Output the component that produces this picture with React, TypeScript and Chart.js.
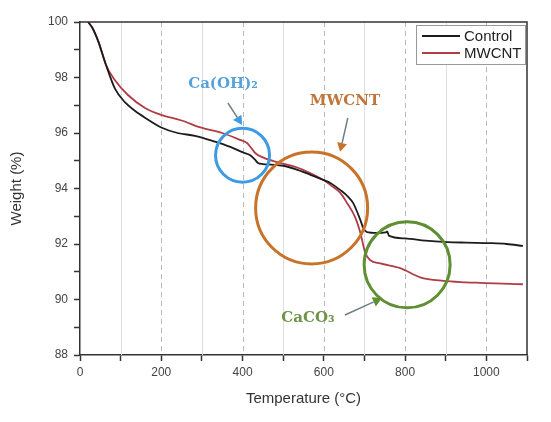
import React, { useEffect, useRef } from "react";
import { Chart, registerables } from "chart.js";

Chart.register(...registerables);

const seriesNames = ["Control", "MWCNT"];
const controlTemp = [20, 30, 45, 64, 86, 111, 135, 160, 200, 240, 283, 330, 370, 401, 419, 430, 438, 450, 470, 500, 530, 566, 600, 616, 640, 660, 672, 690, 697, 706, 731, 752, 756, 760, 800, 850, 904, 950, 1010, 1050, 1090];
const controlWeight = [100, 99.8, 99.3, 98.45, 97.6, 97.1, 96.8, 96.55, 96.2, 96.0, 95.9, 95.7, 95.5, 95.3, 95.2, 95.05, 94.92, 94.88, 94.86, 94.82, 94.7, 94.5, 94.3, 94.2, 93.95, 93.7, 93.48, 92.86, 92.58, 92.43, 92.4, 92.42, 92.45, 92.3, 92.2, 92.12, 92.07, 92.05, 92.03, 92.0, 91.93];
const mwcntTemp = [20, 30, 45, 64, 86, 118, 160, 200, 250, 296, 350, 394, 411, 422, 431, 450, 485, 530, 566, 600, 616, 640, 657, 677, 690, 702, 714, 739, 788, 837, 894, 950, 985, 1040, 1090];
const mwcntWeight = [100, 99.8, 99.3, 98.45, 97.9, 97.37, 96.9, 96.65, 96.45, 96.2, 96.0, 95.75, 95.64, 95.45, 95.28, 95.12, 94.95, 94.78, 94.56, 94.3, 94.13, 93.85, 93.48, 92.97, 92.4, 91.68, 91.42, 91.3, 91.13, 90.8, 90.67, 90.62, 90.6, 90.57, 90.55];
const xTickLabels = [0, 200, 400, 600, 800, 1000];
const yTickLabels = [88, 90, 92, 94, 96, 98, 100];

const seriesColors = ["#1c1c1c", "#b23c46"];

// annotation layout (data coordinates)
const annotations = [
  { label: "Ca(OH)\u2082", color: "#3c9be2", textColor: "#55a3da", circle: [400, 95.2], r: 27, text: [352, 97.77], arrow: [[364, 97.08], [399, 96.29]] },
  { label: "MWCNT", color: "#c8732a", textColor: "#c2753a", circle: [570, 93.3], r: 56, text: [652, 97.15], arrow: [[659, 96.54], [640, 95.32]] },
  { label: "CaCO\u2083", color: "#5f8f33", textColor: "#6e9447", circle: [805, 91.25], r: 43, text: [561, 89.33], arrow: [[652, 89.44], [743, 90.05]] },
];

const decoPlugin = {
  id: "deco",
  beforeDatasetsDraw(chart: any) {
    const { ctx, chartArea: a, scales } = chart;
    const xs = scales.x;
    ctx.save();
    for (let v = 100; v <= 1000; v += 100) {
      const px = Math.round(xs.getPixelForValue(v)) + 0.5;
      ctx.beginPath();
      if (v % 200 === 0) {
        ctx.setLineDash([5, 4]);
        ctx.strokeStyle = "#b8b8b8";
      } else {
        ctx.setLineDash([]);
        ctx.strokeStyle = "#dedede";
      }
      ctx.lineWidth = 1;
      ctx.moveTo(px, a.top);
      ctx.lineTo(px, a.bottom);
      ctx.stroke();
    }
    ctx.restore();
  },
  afterDatasetsDraw(chart: any) {
    const { ctx, chartArea: a, scales } = chart;
    const xs = scales.x;
    const ys = scales.y;
    ctx.save();
    // frame
    ctx.strokeStyle = "#333";
    ctx.lineWidth = 1.5;
    ctx.setLineDash([]);
    ctx.beginPath();
    ctx.moveTo(a.left, a.top);
    ctx.lineTo(a.right, a.top);
    ctx.lineTo(a.right, a.bottom);
    ctx.stroke();

    // annotations
    for (const an of annotations) {
      const cx = xs.getPixelForValue(an.circle[0]);
      const cy = ys.getPixelForValue(an.circle[1]);
      ctx.strokeStyle = an.color;
      ctx.lineWidth = 3;
      ctx.beginPath();
      ctx.arc(cx, cy, an.r, 0, Math.PI * 2);
      ctx.stroke();
      // arrow
      const x1 = xs.getPixelForValue(an.arrow[0][0]);
      const y1 = ys.getPixelForValue(an.arrow[0][1]);
      const x2 = xs.getPixelForValue(an.arrow[1][0]);
      const y2 = ys.getPixelForValue(an.arrow[1][1]);
      const ang = Math.atan2(y2 - y1, x2 - x1);
      const hl = 9;
      const bx = x2 - hl * Math.cos(ang);
      const by = y2 - hl * Math.sin(ang);
      ctx.strokeStyle = "#6f7f86";
      ctx.lineWidth = 1.5;
      ctx.beginPath();
      ctx.moveTo(x1, y1);
      ctx.lineTo(bx, by);
      ctx.stroke();
      ctx.fillStyle = an.color;
      ctx.beginPath();
      ctx.moveTo(x2, y2);
      ctx.lineTo(bx + 5 * Math.sin(ang), by - 5 * Math.cos(ang));
      ctx.lineTo(bx - 5 * Math.sin(ang), by + 5 * Math.cos(ang));
      ctx.closePath();
      ctx.fill();
      // text
      ctx.fillStyle = an.textColor;
      ctx.font = "bold 15px 'DejaVu Serif'";
      ctx.textAlign = "center";
      ctx.textBaseline = "middle";
      ctx.fillText(an.label, xs.getPixelForValue(an.text[0]), ys.getPixelForValue(an.text[1]));
    }

    // legend
    const lx = a.right - 111;
    const ly = a.top + 3;
    ctx.fillStyle = "#ffffff";
    ctx.fillRect(lx, ly, 109, 39);
    ctx.strokeStyle = "#999";
    ctx.lineWidth = 1;
    ctx.strokeRect(lx + 0.5, ly + 0.5, 109, 39);
    chart.data.datasets.forEach((ds: any, i: number) => {
      const yy = ly + 11 + i * 17;
      ctx.strokeStyle = ds.borderColor;
      ctx.lineWidth = 1.8;
      ctx.beginPath();
      ctx.moveTo(lx + 6, yy);
      ctx.lineTo(lx + 44, yy);
      ctx.stroke();
      ctx.fillStyle = "#222";
      ctx.font = "15px 'Liberation Sans', Arial, sans-serif";
      ctx.textAlign = "left";
      ctx.textBaseline = "middle";
      ctx.fillText(ds.label, lx + 48, yy + 1);
    });
    ctx.restore();
  },
};

export default function App() {
  const ref = useRef<HTMLCanvasElement | null>(null);
  useEffect(() => {
    if (!ref.current) return;
    const mk = (t: number[], w: number[]) => t.map((x, i) => ({ x, y: w[i] }));
    const chart = new Chart(ref.current, {
      type: "line",
      data: {
        datasets: [
          { label: seriesNames[0], data: mk(controlTemp, controlWeight), borderColor: seriesColors[0], borderWidth: 1.8, pointRadius: 0, cubicInterpolationMode: "monotone" },
          { label: seriesNames[1], data: mk(mwcntTemp, mwcntWeight), borderColor: seriesColors[1], borderWidth: 1.8, pointRadius: 0, cubicInterpolationMode: "monotone" },
        ],
      },
      options: {
        responsive: false,
        animation: false,
        layout: { padding: { left: 4, top: 22, right: 24, bottom: 10 } },
        plugins: { legend: { display: false }, tooltip: { enabled: false } },
        scales: {
          x: {
            type: "linear",
            min: 0,
            max: 1100,
            afterFit: (s: any) => { s.height = 57; },
            ticks: {
              stepSize: 100,
              autoSkip: false,
              maxRotation: 0,
              padding: 4,
              color: "#444",
              font: { size: 12, family: "'Liberation Sans', Arial, sans-serif" },
              callback: (v: any) => (xTickLabels.includes(v) ? String(v) : ""),
            },
            grid: { drawOnChartArea: false, drawTicks: true, tickLength: 6, tickColor: "#333", tickWidth: 1.5 },
            border: { color: "#333", width: 1.5 },
            title: { display: true, text: "Temperature (\u00B0C)", color: "#333", font: { size: 15, family: "'Liberation Sans', Arial, sans-serif" } },
          },
          y: {
            min: 88,
            max: 100,
            afterFit: (s: any) => { s.width = 76; },
            ticks: {
              stepSize: 1,
              autoSkip: false,
              padding: 6,
              color: "#444",
              font: { size: 12, family: "'Liberation Sans', Arial, sans-serif" },
              callback: (v: any) => (yTickLabels.includes(v) ? String(v) : ""),
            },
            grid: { drawOnChartArea: false, drawTicks: true, tickLength: 6, tickColor: "#333", tickWidth: 1.5 },
            border: { color: "#333", width: 1.5 },
            title: { display: true, text: "Weight (%)", color: "#333", font: { size: 15, family: "'Liberation Sans', Arial, sans-serif" } },
          },
        },
      },
      plugins: [decoPlugin],
    } as any);
    return () => chart.destroy();
  }, []);
  return (
    <div style={{ position: "fixed", left: 0, top: 0, width: 551, height: 422, background: "#fff" }}>
      <canvas ref={ref} width={551} height={422} style={{ width: 551, height: 422 }} />
    </div>
  );
}
